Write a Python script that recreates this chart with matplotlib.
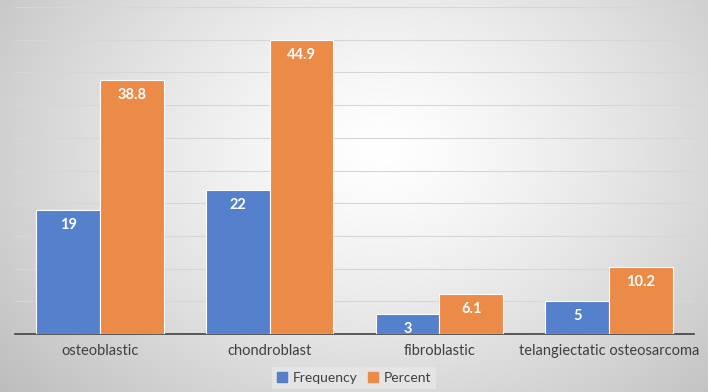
import numpy as np
import matplotlib
matplotlib.use("Agg")
import matplotlib.pyplot as plt
from matplotlib.patches import Patch

categories = ["osteoblastic", "chondroblast", "fibroblastic", "telangiectatic osteosarcoma"]
frequency = [19, 22, 3, 5]
percent = [38.8, 44.9, 6.1, 10.2]
freq_labels = ["19", "22", "3", "5"]
pct_labels = ["38.8", "44.9", "6.1", "10.2"]

plt.rcParams['font.family'] = ['Lato', 'DejaVu Sans']

W, H = 708, 392
fig = plt.figure(figsize=(W/100, H/100), dpi=100)

# radial gradient background
bg = fig.add_axes([0, 0, 1, 1], zorder=0)
yy, xx = np.mgrid[0:H, 0:W]
cx, cy = 380, 150
r = np.sqrt(((xx - cx) / 1.0) ** 2 + ((yy - cy) / 0.75) ** 2)
r = r / r.max()
v = 1.0 - 0.26 * np.clip(r, 0, 1) ** 1.3
img = np.dstack([v, v, v])
bg.imshow(img, aspect='auto', extent=[0, 1, 0, 1], origin='upper')
bg.set_axis_off()

ax = fig.add_axes([15/W, (H-334)/H, 679/W, 327/H], zorder=1)
ax.patch.set_alpha(0)

x = np.arange(len(categories))
bw = 0.375
blue = "#5580CC"
orange = "#EC8A48"
b1 = ax.bar(x - bw/2, frequency, bw, color=blue, edgecolor="white", linewidth=0.8, zorder=3)
b2 = ax.bar(x + bw/2, percent, bw, color=orange, edgecolor="white", linewidth=0.8, zorder=3)

for bars, labs in ((b1, freq_labels), (b2, pct_labels)):
    for b, lab in zip(bars, labs):
        ax.text(b.get_x() + b.get_width()/2, b.get_height() - 1.2, lab,
                ha='center', va='top', color='white', fontsize=10.5, fontweight='bold', zorder=4)

ax.set_xlim(-0.5, len(categories) - 0.5)
ax.set_ylim(0, 50)
ax.set_yticks(np.arange(0, 51, 5))
ax.yaxis.grid(True, color="#d6d6d6", linewidth=0.8, zorder=0)
ax.set_axisbelow(True)
ax.tick_params(axis='y', left=False, labelleft=False)
ax.tick_params(axis='x', bottom=False, labelsize=10.5, labelcolor="#404040", pad=4)
ax.set_xticks(x)
ax.set_xticklabels(categories)
for s in ['top', 'right', 'left']:
    ax.spines[s].set_visible(False)
ax.spines['bottom'].set_color("#404040")
ax.spines['bottom'].set_linewidth(1.2)

handles = [Patch(color=blue, label="Frequency"), Patch(color=orange, label="Percent")]
leg = fig.legend(handles=handles, loc='center', bbox_to_anchor=(354/W, 1 - 378/H), ncol=2,
                 frameon=True, fontsize=10, handlelength=0.7, handleheight=0.7,
                 handletextpad=0.4, columnspacing=0.8, labelcolor="#404040",
                 borderpad=0.35, fancybox=False)
leg.get_frame().set_facecolor("#e4e4e4")
leg.get_frame().set_edgecolor("none")
leg.get_frame().set_alpha(1)

fig.savefig("out.png", dpi=100)
